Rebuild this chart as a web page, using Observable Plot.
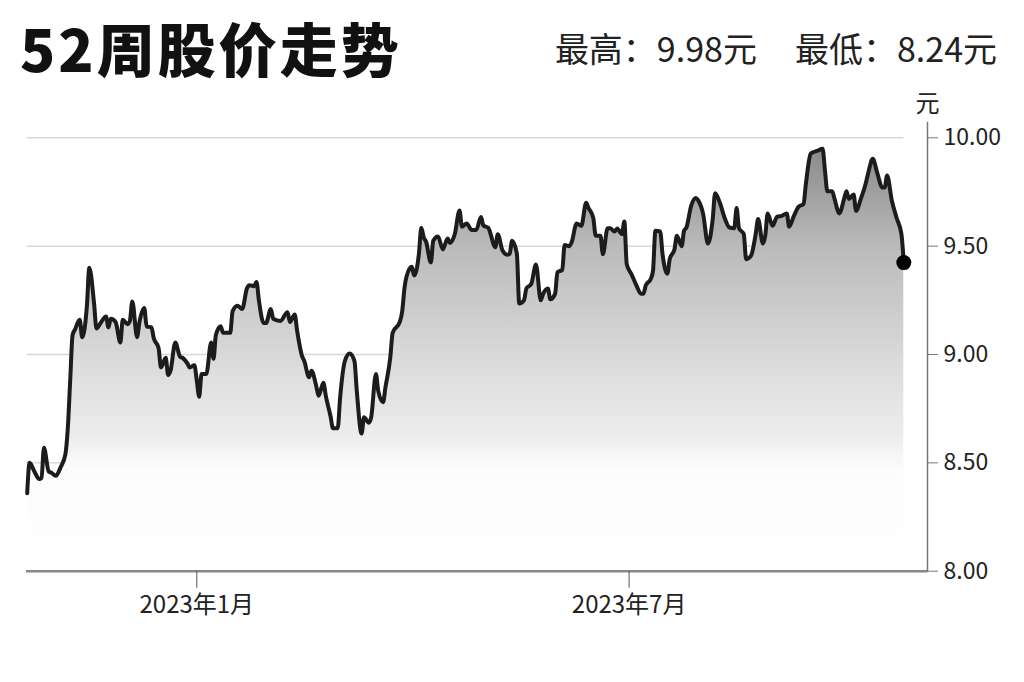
<!DOCTYPE html>
<html>
<head>
<meta charset="utf-8">
<script src="https://cdn.jsdelivr.net/npm/d3@7"></script>
<script src="https://cdn.jsdelivr.net/npm/@observablehq/plot@0.6"></script>
<style>
  body { margin: 0; background: #fff; }
  #wrap { position: relative; width: 1024px; height: 682px; overflow: hidden; background: #fff;
          font-family: "Noto Sans CJK SC", "Noto Sans", sans-serif; }
  #title { position: absolute; left: 20px; top: 18px; font-size: 58px; font-weight: 900; color: #111;
           letter-spacing: 3px; line-height: 1; white-space: nowrap; }
  #stats { position: absolute; right: 27px; top: 31px; font-size: 34px; color: #222; line-height: 1; white-space: nowrap; }
  #stats span + span { margin-left: 38px; }
  #chart { position: absolute; left: 0; top: 95px; }
</style>
</head>
<body>
<div id="wrap">
  <div id="title"></div>
  <div id="stats"></div>
  <div id="chart"></div>
</div>
<script>
// ---- data ----
const titleText = "52周股价走势";
const statLabels = ["最高", "最低"];
const statValues = [9.98, 8.24];
const unitLabel = "元";

// days counted from 2023-01-01 (negative = 2022)
const dayOffsets = [
  -71,-70,-68,-66,-65,-64,-62,-61,-59,-57,-55,-54,-53,-52,-51,-49,-48,-46,-45,-43,
  -42,-40,-38,-37,-36,-34,-32,-31,-29,-28,-27,-25,-24,-22,-21,-19,-18,-16,-15,-13,
  -12,-11,-9,-7,-6,-4,-3,-1,0,1,2,4,6,7,8,10,11,14,15,17,19,21,22,24,25,26,28,29,31,32,
  35,38,39,41,42,44,45,47,48,50,51,53,54,56,57,59,60,62,64,66,67,69,70,72,73,75,76,78,79,81,
  82,85,86,87,89,90,91,93,94,95,96,98,99,101,103,105,106,108,110,111,113,115,117,119,120,122,125,126,128,130,
  131,132,134,135,137,138,140,142,144,145,147,148,150,151,153,154,156,157,159,
  161,163,164,166,167,169,170,172,173,175,176,178,179,180,182,184,186,187,188,190,
  191,192,194,195,197,198,200,201,203,204,205,207,209,210,212,214,216,217,219,221,
  223,225,226,227,229,230,232,234,235,237,238,239,241,243,245,247,248,250,252,254,
  255,257,258,260,262,263,264,266,267,269,271,272,273,275,276,278,280,281,283,285,
  287,288,289,291,293,295,296
];
const prices = [
  8.36,8.50,8.46,8.425,8.43,8.57,8.46,8.455,8.44,8.48,8.54,8.66,8.88,9.09,9.115,9.16,9.08,9.225,9.40,9.235,
  9.12,9.15,9.175,9.125,9.165,9.15,9.055,9.16,9.14,9.155,9.245,9.08,9.15,9.215,9.13,9.125,9.075,9.03,8.94,8.985,
  8.905,8.925,9.055,8.99,8.985,8.96,8.94,8.95,8.88,8.805,8.91,8.91,9.055,8.98,9.09,9.13,9.10,9.10,9.20,9.225,
  9.21,9.305,9.32,9.315,9.335,9.25,9.145,9.145,9.21,9.165,
  9.155,9.195,9.15,9.185,9.11,8.995,8.97,8.895,8.925,8.855,8.81,8.87,8.81,8.715,8.66,8.66,8.80,8.97,9.005,8.97,
  8.83,8.635,8.71,8.685,8.71,8.91,8.83,8.78,8.85,8.985,9.10,9.15,9.20,9.31,9.395,9.405,9.365,9.465,9.585,9.54,
  9.52,9.425,9.525,9.545,9.485,9.535,9.515,9.555,9.665,9.59,9.605,9.575,9.575,9.635,9.595,9.585,9.495,9.555,9.48,9.46,
  9.465,9.525,9.465,9.235,9.25,9.305,9.325,9.415,9.25,9.28,9.305,9.255,9.28,9.38,9.39,9.505,9.50,9.52,9.605,
  9.594,9.70,9.676,9.63,9.548,9.548,9.463,9.583,9.583,9.568,9.582,9.556,9.614,9.417,9.37,9.32,9.28,9.28,9.32,9.347,
  9.386,9.571,9.568,9.463,9.373,9.44,9.486,9.548,9.50,9.571,9.586,9.687,9.722,9.71,9.648,9.512,9.625,9.744,9.70,9.63,
  9.586,9.583,9.676,9.583,9.556,9.44,9.455,9.556,9.625,9.512,9.548,9.651,9.594,9.636,9.64,9.651,9.59,9.64,9.682,9.694,
  9.787,9.926,9.933,9.941,9.949,9.849,9.753,9.753,9.718,9.651,9.718,9.753,9.718,9.738,9.663,9.718,9.787,9.833,9.903,9.833,
  9.771,9.771,9.826,9.71,9.63,9.556,9.424
];
const yTicks = [8.0, 8.5, 9.0, 9.5, 10.0];
const xTickDates = ["2023-01-01", "2023-07-01"];

// ---- build ----
const base = Date.UTC(2023, 0, 1);
const data = dayOffsets.map((d, i) => ({ date: new Date(base + d * 864e5), price: prices[i] }));
const first = data[0], last = data[data.length - 1];

document.getElementById("title").textContent = titleText;
document.getElementById("stats").innerHTML = statLabels
  .map((l, i) => `<span>${l}：${statValues[i].toFixed(2)}${unitLabel}</span>`).join("");

const H = 540;
const chart = Plot.plot({
  width: 1024,
  height: H,
  marginLeft: 26,
  marginRight: 97,
  marginTop: 27,
  marginBottom: H - 475.7,
  style: { fontFamily: '"Noto Sans CJK SC", "Noto Sans", sans-serif', fontSize: "23px", color: "#222", background: "#fff", overflow: "visible" },
  x: { type: "utc", domain: [first.date, last.date], range: [26.7, 903.3] },
  y: { domain: [yTicks[0], yTicks[yTicks.length - 1]], range: [475.7, 42.3] },
  marks: [
    Plot.ruleY(yTicks.slice(1), { x1: first.date, x2: last.date, stroke: "#d8d8d8", strokeWidth: 1.5 }),
    Plot.areaY(data, { x: "date", y1: yTicks[0], y2: "price", fill: "url(#areaGrad)", curve: "monotone-x" }),
    Plot.lineY(data, { x: "date", y: "price", stroke: "#1c1c1c", strokeWidth: 4, curve: "monotone-x", strokeLinejoin: "round" }),
    Plot.dot([last], { x: "date", y: "price", r: 7.5, fill: "#000", stroke: "none" }),
    Plot.ruleY([yTicks[0]], { stroke: "#888", strokeWidth: 2.5 }),
    Plot.frame({ anchor: "right", stroke: "#777", strokeWidth: 1.5 }),
    Plot.axisY({ anchor: "right", ticks: yTicks, tickFormat: d3.format(".2f"), tickSize: 10, tickPadding: 6,
                 fontSize: 23, label: null, stroke: "#777" }),
    Plot.axisX({ ticks: xTickDates.map(s => new Date(s)), tickSize: 17, tickPadding: 8, fontSize: 24, label: null,
                 stroke: "#555",
                 tickFormat: d => `${d.getUTCFullYear()}年${d.getUTCMonth() + 1}月` }),
    Plot.text([unitLabel], { frameAnchor: "top-right", textAnchor: "middle", lineAnchor: "middle", dy: -18, fontSize: 24, fill: "#222" })
  ]
});

d3.select(chart).insert("defs", ":first-child").html(`
  <linearGradient id="areaGrad" x1="0" y1="0" x2="0" y2="1">
    <stop offset="0" stop-color="#8a8a8a"/>
    <stop offset="0.23" stop-color="#bababa"/>
    <stop offset="0.49" stop-color="#d9d9d9"/>
    <stop offset="0.68" stop-color="#ededed"/>
    <stop offset="0.76" stop-color="#fcfcfc"/>
    <stop offset="1" stop-color="#ffffff"/>
  </linearGradient>`);

document.getElementById("chart").appendChild(chart);
</script>
</body>
</html>
